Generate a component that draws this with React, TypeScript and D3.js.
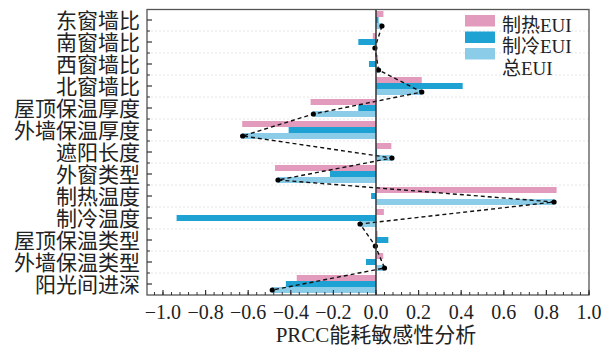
import React from 'react';
import * as d3 from 'd3';

// PRCC sensitivity of energy use to design parameters
const categories = [
  '东窗墙比', '南窗墙比', '西窗墙比', '北窗墙比', '屋顶保温厚度', '外墙保温厚度',
  '遮阳长度', '外窗类型', '制热温度', '制冷温度', '屋顶保温类型', '外墙保温类型', '阳光间进深',
];
const heatingEUI = [0.035, -0.015, 0.01, 0.215, -0.307, -0.628, 0.072, -0.474, 0.848, 0.037, 0.008, 0.034, -0.372];
const coolingEUI = [0.012, -0.083, -0.033, 0.407, -0.083, -0.41, 0.005, -0.216, -0.023, -0.936, 0.058, -0.047, -0.423];
const totalEUI = [0.028, -0.005, 0.012, 0.215, -0.294, -0.626, 0.075, -0.46, 0.836, -0.075, -0.003, 0.04, -0.487];
const seriesNames = ['制热EUI', '制冷EUI', '总EUI'];
const xTicks = [-1.0, -0.8, -0.6, -0.4, -0.2, 0.0, 0.2, 0.4, 0.6, 0.8, 1.0];
const axisTitle = 'PRCC能耗敏感性分析';

const colors = ['#e39bbd', '#1ea2d4', '#8bcde9'];
const W = 604;
const H = 353;
const left = 147, right = 589, top = 9, bottom = 295;
const fontLatin = "'Liberation Serif', 'Times New Roman', serif";
const fontMixed = "'Liberation Serif', 'Noto Sans CJK SC', serif";

export default function App() {
  const x = d3.scaleLinear().domain([-1.075, 1]).range([left, right]);
  const y = d3.scaleBand<string>().domain(categories).range([top, bottom]).padding(0);
  const step = y.step();
  const barH = 6;
  const series = [heatingEUI, coolingEUI, totalEUI];
  const center = (c: string) => (y(c) as number) + step / 2;

  const minorTicks = d3.range(-26, 26).map((i) => i * 0.04).filter((v) => v >= -1.075 && v <= 1.0001);

  const linePts: [number, number][] = categories.map((c, i) => [x(totalEUI[i]), center(c) + barH]);
  const line = d3.line();

  const legendRectY = [15, 31.5, 48];
  const legendTextY = [31.8, 53.3, 74.8];

  return (
    <svg width={W} height={H} style={{ position: 'absolute', left: 0, top: 0, background: '#fff' }}>
      {/* faint gridlines at category boundaries */}
      {categories.slice(1).map((c) => (
        <line key={'g' + c} x1={left} x2={right} y1={y(c)} y2={y(c)} stroke="#e4e4e4" strokeWidth={1} strokeDasharray="2,2" />
      ))}

      {/* bars */}
      {series.map((vals, si) =>
        categories.map((c, i) => {
          const v = vals[i];
          const x0 = Math.min(x(0), x(v));
          const w = Math.abs(x(v) - x(0));
          return (
            <rect key={`b${si}-${i}`} x={x0} y={center(c) - barH * 1.5 + si * barH} width={w} height={barH} fill={colors[si]} />
          );
        })
      )}

      {/* total EUI trend */}
      <path d={line(linePts) || ''} fill="none" stroke="#111" strokeWidth={1.4} strokeDasharray="4,3" />
      {linePts.map((p, i) => (
        <circle key={'d' + i} cx={p[0]} cy={p[1]} r={2.6} fill="#000" />
      ))}

      {/* zero line */}
      <line x1={x(0)} x2={x(0)} y1={top} y2={bottom} stroke="#333" strokeWidth={1.5} />

      {/* frame */}
      <rect x={left} y={top + 0.5} width={right - left} height={bottom - top - 0.5} fill="none" stroke="#555" strokeWidth={1.3} />

      {/* x axis ticks (inward) */}
      {minorTicks.map((v, i) => (
        <line key={'mx' + i} x1={x(v)} x2={x(v)} y1={bottom} y2={bottom - 3} stroke="#333" strokeWidth={1} />
      ))}
      {xTicks.map((v) => (
        <line key={'Mx' + v} x1={x(v)} x2={x(v)} y1={bottom} y2={bottom - 5} stroke="#333" strokeWidth={1.2} />
      ))}
      {xTicks.map((v) => (
        <text key={'tx' + v} x={x(v)} y={319} textAnchor="middle" fontFamily={fontLatin} fontSize={20} fill="#222">
          {d3.format('.1f')(v).replace('-', '\u2212')}
        </text>
      ))}

      {/* y axis ticks (inward) */}
      {categories.map((c) => (
        <line key={'My' + c} x1={left} x2={left + 5} y1={center(c)} y2={center(c)} stroke="#333" strokeWidth={1.2} />
      ))}
      {categories.slice(1).map((c) => (
        <line key={'my' + c} x1={left} x2={left + 3} y1={y(c)} y2={y(c)} stroke="#333" strokeWidth={1} />
      ))}
      {categories.map((c) => (
        <text key={'ty' + c} x={140} y={center(c) + 7.5} textAnchor="end" fontFamily={fontMixed} fontSize={21} fill="#222">
          {c}
        </text>
      ))}

      {/* axis title */}
      <text x={x(0)} y={342} textAnchor="middle" fontFamily={fontMixed} fontSize={21} fill="#222">
        {axisTitle}
      </text>

      {/* legend */}
      {seriesNames.map((n, i) => (
        <g key={'l' + n}>
          <rect x={465} y={legendRectY[i]} width={30} height={11.5} fill={colors[i]} />
          <text x={502} y={legendTextY[i]} fontFamily={fontMixed} fontSize={19} fill="#222">
            {n}
          </text>
        </g>
      ))}
    </svg>
  );
}
